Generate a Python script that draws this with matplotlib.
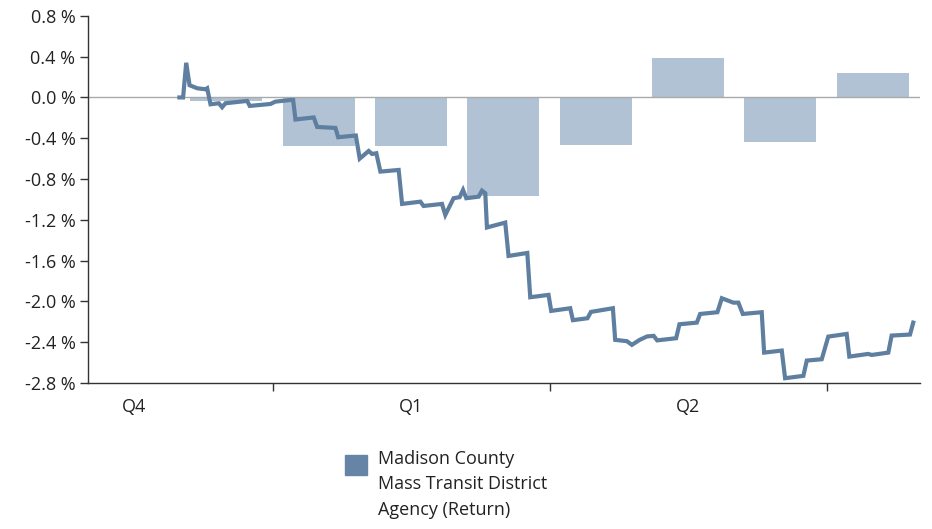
import matplotlib.pyplot as plt
from matplotlib.patches import Rectangle

plt.rcParams['font.family'] = ['Open Sans', 'DejaVu Sans']

# monthly returns (bars), x in months, Dec = 0 ... Jul = 7
bar_x = [0, 1, 2, 3, 4, 5, 6, 7]
bar_vals = [-0.03, -0.475, -0.475, -0.963, -0.466, 0.387, -0.436, 0.240]

# cumulative return line
line_x = [-0.51, -0.47, -0.436, -0.40, -0.317, -0.227, -0.209, -0.173, -0.083, -0.047,
          -0.011, 0.224, 0.252, 0.476, 0.530, 0.693, 0.722, 0.747, 0.945, 0.982,
          1.180, 1.210, 1.401, 1.443, 1.540, 1.577, 1.623, 1.667, 1.865, 1.902,
          2.100, 2.135, 2.334, 2.370, 2.460, 2.525, 2.562, 2.597, 2.731, 2.767,
          2.803, 2.821, 3.019, 3.055, 3.258, 3.290, 3.488, 3.517, 3.723, 3.752,
          3.910, 3.947, 4.185, 4.210, 4.337, 4.391, 4.475, 4.556, 4.627, 4.665,
          4.870, 4.906, 5.094, 5.130, 5.317, 5.365, 5.490, 5.544, 5.592, 5.797,
          5.823, 6.014, 6.050, 6.248, 6.285, 6.447, 6.518, 6.717, 6.746, 6.951,
          6.988, 7.168, 7.204, 7.403, 7.438]
line_vals = [0.0, 0.0, 0.34, 0.12, 0.09, 0.08, 0.09, -0.067, -0.057, -0.096,
             -0.057, -0.034, -0.083, -0.064, -0.041, -0.025, -0.025, -0.216, -0.196, -0.289,
             -0.299, -0.390, -0.373, -0.600, -0.525, -0.554, -0.547, -0.727, -0.711, -1.044,
             -1.022, -1.064, -1.044, -1.152, -0.988, -0.978, -0.907, -0.988, -0.973, -0.914,
             -0.939, -1.275, -1.227, -1.554, -1.525, -1.959, -1.936, -2.093, -2.067, -2.184,
             -2.165, -2.103, -2.067, -2.377, -2.390, -2.426, -2.377, -2.343, -2.338, -2.382,
             -2.361, -2.224, -2.208, -2.123, -2.106, -1.969, -2.012, -2.012, -2.123, -2.106,
             -2.502, -2.482, -2.753, -2.730, -2.580, -2.567, -2.345, -2.319, -2.541, -2.515,
             -2.525, -2.502, -2.335, -2.325, -2.208]

quarter_labels = ['Q4', 'Q1', 'Q2']
quarter_pos = [-1, 2, 5]
quarter_bounds = [0.5, 3.5, 6.5]
y_ticks = [-2.8, -2.4, -2.0, -1.6, -1.2, -0.8, -0.4, 0.0, 0.4, 0.8]

bar_color = '#b0c2d4'
line_color = '#5f7fa0'
axis_color = '#333333'

fig = plt.figure(figsize=(9.32, 5.29), dpi=100)
ax = fig.add_axes([0.0944, 0.276, 0.8926, 0.694])

ax.bar(bar_x, bar_vals, width=0.78, color=bar_color, zorder=1)
ax.axhline(0, color='#aaaaaa', lw=1, zorder=2)
ax.plot(line_x, line_vals, color=line_color, lw=3.0, zorder=3,
        solid_joinstyle='miter')

ax.set_xlim(-1.5, 7.51)
ax.set_ylim(-2.8, 0.8)

ax.set_yticks(y_ticks)
ax.set_yticklabels(['%.1f %%' % v for v in y_ticks])
ax.set_xticks(quarter_bounds)
ax.set_xticklabels([])
ax.set_xticks(quarter_pos, minor=True)
ax.set_xticklabels(quarter_labels, minor=True)

ax.tick_params(axis='y', length=6, width=1, color=axis_color, labelsize=13,
               labelcolor='#222222', pad=3)
ax.tick_params(axis='x', which='major', length=6, width=1, color=axis_color)
ax.tick_params(axis='x', which='minor', length=0, labelsize=13,
               labelcolor='#222222', pad=11)

for s in ['top', 'right']:
    ax.spines[s].set_visible(False)
for s in ['left', 'bottom']:
    ax.spines[s].set_color(axis_color)
    ax.spines[s].set_linewidth(1)

# legend
fig.add_artist(Rectangle((0.370, 0.102), 0.024, 0.038, transform=fig.transFigure,
                         color='#6685a6'))
fig.text(0.4056, 0.150, 'Madison County\nMass Transit District\nAgency (Return)',
         va='top', ha='left', fontsize=13, color='#222222', linespacing=1.55)

fig.savefig('out.png', dpi=100)
